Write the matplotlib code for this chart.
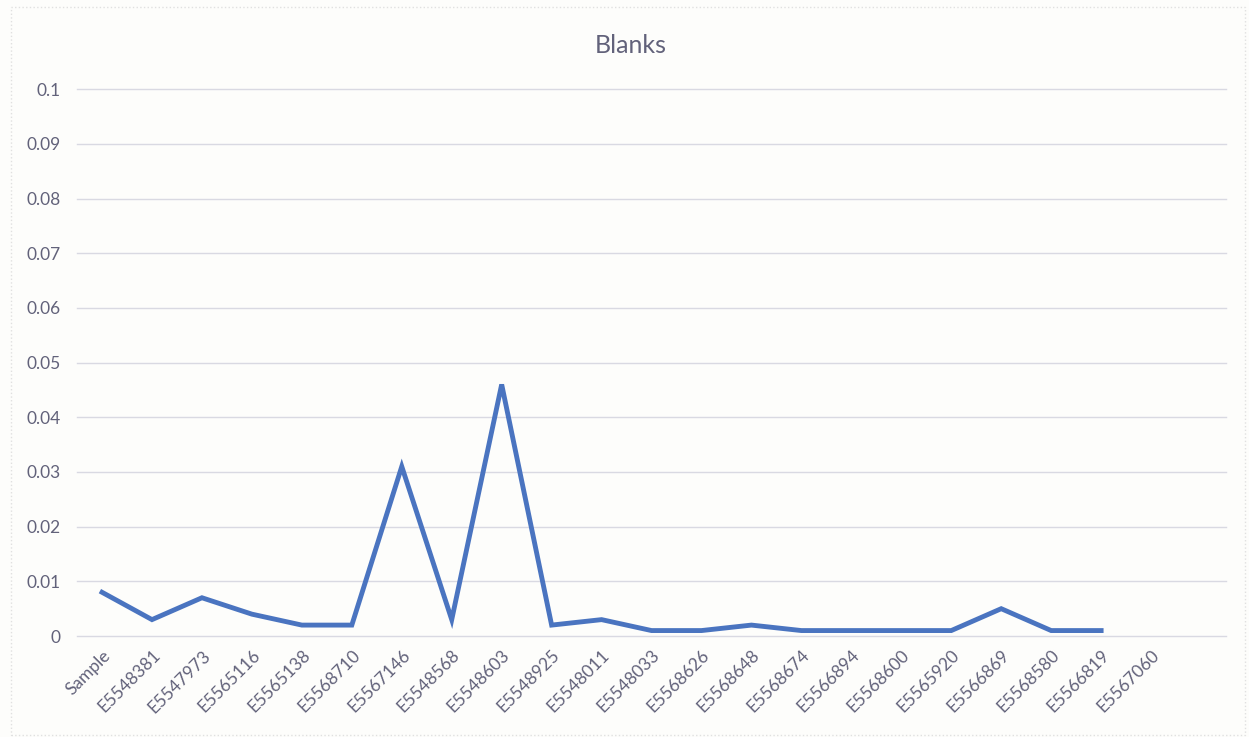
import matplotlib
matplotlib.use("Agg")
import matplotlib.pyplot as plt
import numpy as np
from matplotlib.patches import Rectangle

categories = ["Sample", "E5548381", "E5547973", "E5565116", "E5565138", "E5568710",
              "E5567146", "E5548568", "E5548603", "E5548925", "E5548011", "E5548033",
              "E5568626", "E5568648", "E5568674", "E5566894", "E5568600", "E5565920",
              "E5566869", "E5568580", "E5566819", "E5567060"]
values = [0.008, 0.003, 0.007, 0.004, 0.002, 0.002, 0.031, 0.003, 0.046, 0.002,
          0.003, 0.001, 0.001, 0.002, 0.001, 0.001, 0.001, 0.001, 0.005, 0.001,
          0.001, np.nan]
yticks = [0, 0.01, 0.02, 0.03, 0.04, 0.05, 0.06, 0.07, 0.08, 0.09, 0.1]
ytick_labels = ["0", "0.01", "0.02", "0.03", "0.04", "0.05", "0.06", "0.07", "0.08", "0.09", "0.1"]

plt.rcParams['font.family'] = ['Lato', 'DejaVu Sans']

text_color = "#62627a"
fig = plt.figure(figsize=(12.49, 7.37), dpi=100, facecolor="#fdfdfb")
ax = fig.add_axes([0.0617, 0.137, 0.9199, 0.742])
ax.set_facecolor("#fdfdfb")

x = np.arange(len(categories))
ax.plot(x, values, color="#4a74c0", linewidth=3.5, solid_joinstyle="miter", zorder=3)

ax.set_xlim(-0.5, len(categories) + 0.5)
ax.set_ylim(0, 0.1)
ax.set_yticks(yticks)
ax.set_yticklabels(ytick_labels, fontsize=12.5, color=text_color)
ax.set_xticks(x)
ax.set_xticklabels(categories, rotation=45, ha="right", rotation_mode="anchor",
                   fontsize=12.5, color=text_color)
ax.tick_params(axis="both", length=0)
ax.tick_params(axis="y", pad=12)
ax.tick_params(axis="x", pad=8)
ax.grid(axis="y", color="#d9d9e2", linewidth=1)
for gl in ax.get_ygridlines():
    gl.set_clip_on(False)
ax.set_axisbelow(True)
for s in ax.spines.values():
    s.set_visible(False)

fig.text(0.505, 0.938, "Blanks", ha="center", va="center", fontsize=18, color=text_color)

fig.patches.append(Rectangle((0.009, 0.003), 0.988, 0.988, transform=fig.transFigure,
                             fill=False, edgecolor="#e0e0e0", linewidth=1, linestyle=":"))

fig.savefig("out.png", dpi=100, facecolor=fig.get_facecolor())
